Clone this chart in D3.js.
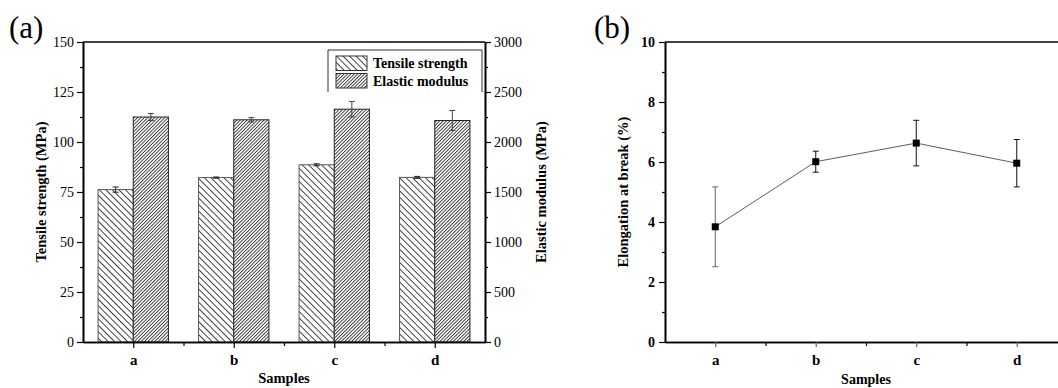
<!DOCTYPE html>
<html>
<head>
<meta charset="utf-8">
<script src="https://cdn.jsdelivr.net/npm/d3@7"></script>
<style>
  body { margin: 0; background: #fff; }
  svg { display: block; font-family: "Liberation Serif", "Times New Roman", serif; }
  svg text { font-family: "Liberation Serif", "Times New Roman", serif; }
</style>
</head>
<body>
<svg id="chart" width="1058" height="388"></svg>
<script>
// data
var samples = ["a", "b", "c", "d"];
var tensile = [76.2, 82.2, 88.6, 82.3];
var tensileErr = [1.3, 0.3, 0.5, 0.5];
var modulus = [2250, 2222, 2328, 2215];
var modulusErr = [35, 22, 78, 100];
var elongation = [3.84, 6.01, 6.63, 5.96];
var elongationErr = [1.33, 0.35, 0.76, 0.79];
var tensileTicks = [0, 25, 50, 75, 100, 125, 150];
var modulusTicks = [0, 500, 1000, 1500, 2000, 2500, 3000];
var elongTicks = [0, 2, 4, 6, 8, 10];

var svg = d3.select("#chart");

// hatch patterns
var defs = svg.append("defs");
var p1 = defs.append("pattern")
  .attr("id", "hatchBack")
  .attr("patternUnits", "userSpaceOnUse")
  .attr("width", 4.6).attr("height", 4.6)
  .attr("patternTransform", "rotate(-45)");
p1.append("rect").attr("width", 4.6).attr("height", 4.6).attr("fill", "#fff");
p1.append("rect").attr("x", 0).attr("y", 0).attr("width", 0.9).attr("height", 4.6)
  .attr("fill", "#333");

var p2 = defs.append("pattern")
  .attr("id", "hatchFwd")
  .attr("patternUnits", "userSpaceOnUse")
  .attr("width", 2.4).attr("height", 2.4)
  .attr("patternTransform", "rotate(45)");
p2.append("rect").attr("width", 2.4).attr("height", 2.4).attr("fill", "#fff");
p2.append("rect").attr("x", 0).attr("y", 0).attr("width", 0.9).attr("height", 2.4)
  .attr("fill", "#333");

function styleAxis(g, bold, size) {
  g.attr("font-family", null);
  g.selectAll("path").attr("stroke", "#000").attr("stroke-width", 1.6);
  g.selectAll("line").attr("stroke", "#000").attr("stroke-width", 1.2);
  g.selectAll("text")
    .attr("fill", "#000")
    .style("font-size", size + "px")
    .style("font-weight", bold ? "bold" : "normal");
}

// ---------- panel (a) ----------
var xa = d3.scaleLinear().domain([0.5, 4.5]).range([83, 485]);
var ya = d3.scaleLinear().domain([0, 150]).range([342, 42]);
var ya2 = d3.scaleLinear().domain([0, 3000]).range([342, 42]);
var barW = 0.35;

var ga = svg.append("g");

// bars
ga.selectAll(".tbar")
  .data(tensile)
  .enter().append("rect")
  .attr("x", function(d, i) { return xa(i + 1 - barW); })
  .attr("y", function(d) { return ya(d); })
  .attr("width", function() { return xa(1) - xa(1 - barW); })
  .attr("height", function(d) { return ya(0) - ya(d); })
  .attr("fill", "url(#hatchBack)")
  .attr("stroke", "#555").attr("stroke-width", 1);

ga.selectAll(".mbar")
  .data(modulus)
  .enter().append("rect")
  .attr("x", function(d, i) { return xa(i + 1); })
  .attr("y", function(d) { return ya2(d); })
  .attr("width", function() { return xa(1 + barW) - xa(1); })
  .attr("height", function(d) { return ya2(0) - ya2(d); })
  .attr("fill", "url(#hatchFwd)")
  .attr("stroke", "#222").attr("stroke-width", 1);

// error bars
function errBar(g, cx, yTop, yBot, color) {
  g.append("line").attr("x1", cx).attr("x2", cx).attr("y1", yTop).attr("y2", yBot)
    .attr("stroke", color).attr("stroke-width", 1);
  [yTop, yBot].forEach(function(yy) {
    g.append("line").attr("x1", cx - 3).attr("x2", cx + 3).attr("y1", yy).attr("y2", yy)
      .attr("stroke", color).attr("stroke-width", 1);
  });
}
tensile.forEach(function(d, i) {
  var cx = xa(i + 1 - barW / 2);
  errBar(ga, cx, ya(d + tensileErr[i]), ya(d - tensileErr[i]), "#222");
});
modulus.forEach(function(d, i) {
  var cx = xa(i + 1 + barW / 2);
  errBar(ga, cx, ya2(d + modulusErr[i]), ya2(d - modulusErr[i]), "#444");
});

// axes
var leftMinor = ga.append("g").attr("transform", "translate(83,0)")
  .call(d3.axisLeft(ya).tickValues([12.5, 37.5, 62.5, 87.5, 112.5, 137.5]).tickSize(3).tickFormat("").tickSizeOuter(0));
styleAxis(leftMinor, false, 11);
var leftAx = ga.append("g").attr("transform", "translate(83,0)")
  .call(d3.axisLeft(ya).tickValues(tensileTicks).tickSize(6).tickPadding(3).tickSizeOuter(0).tickFormat(d3.format("d")));
styleAxis(leftAx, false, 14);

var rightMinor = ga.append("g").attr("transform", "translate(485,0)")
  .call(d3.axisRight(ya2).tickValues([250, 750, 1250, 1750, 2250, 2750]).tickSize(3).tickFormat("").tickSizeOuter(0));
styleAxis(rightMinor, false, 11);
var rightAx = ga.append("g").attr("transform", "translate(485,0)")
  .call(d3.axisRight(ya2).tickValues(modulusTicks).tickSize(6).tickPadding(3).tickSizeOuter(0).tickFormat(d3.format("d")));
styleAxis(rightAx, false, 14);

var botMinor = ga.append("g").attr("transform", "translate(0,342)")
  .call(d3.axisBottom(xa).tickValues([1.5, 2.5, 3.5]).tickSize(4).tickFormat("").tickSizeOuter(0));
styleAxis(botMinor, true, 13);
var botAx = ga.append("g").attr("transform", "translate(0,342)")
  .call(d3.axisBottom(xa).tickValues([1, 2, 3, 4]).tickSize(6).tickPadding(6).tickSizeOuter(0)
    .tickFormat(function(d) { return samples[d - 1]; }));
styleAxis(botAx, true, 15);

ga.append("line").attr("x1", 83).attr("x2", 485).attr("y1", 42).attr("y2", 42)
  .attr("stroke", "#000").attr("stroke-width", 1.6);

// legend
ga.append("path")
  .attr("d", "M328,92V50H482V92")
  .attr("fill", "none").attr("stroke", "#333").attr("stroke-width", 1);
var legendItems = [["Tensile strength", "url(#hatchBack)"], ["Elastic modulus", "url(#hatchFwd)"]];
legendItems.forEach(function(it, i) {
  ga.append("rect").attr("x", 336).attr("y", 56 + i * 17.5).attr("width", 31).attr("height", 14.5)
    .attr("fill", it[1]).attr("stroke", "#333").attr("stroke-width", 1);
  ga.append("text").attr("x", 373).attr("y", 68 + i * 17.5).text(it[0])
    .style("font-size", "14px").style("font-weight", "bold");
});

// titles
ga.append("text").attr("x", 9).attr("y", 38).text("(a)").style("font-size", "31px");
ga.append("text").attr("transform", "translate(46,192) rotate(-90)")
  .attr("text-anchor", "middle").text("Tensile strength (MPa)")
  .style("font-size", "14.5px").style("font-weight", "bold");
ga.append("text").attr("transform", "translate(546,192) rotate(-90)")
  .attr("text-anchor", "middle").text("Elastic modulus (MPa)")
  .style("font-size", "14.5px").style("font-weight", "bold");
ga.append("text").attr("x", 284).attr("y", 383)
  .attr("text-anchor", "middle").text("Samples")
  .style("font-size", "14.5px").style("font-weight", "bold");

// ---------- panel (b) ----------
var xb = d3.scaleLinear().domain([0.5, 4.5]).range([665, 1067]);
var yb = d3.scaleLinear().domain([0, 10]).range([342, 42]);
var gb = svg.append("g");

var lineB = d3.line()
  .x(function(d, i) { return xb(i + 1); })
  .y(function(d) { return yb(d); });
gb.append("path").datum(elongation).attr("d", lineB)
  .attr("fill", "none").attr("stroke", "#333").attr("stroke-width", 0.8);

elongation.forEach(function(d, i) {
  errBar(gb, xb(i + 1), yb(d + elongationErr[i]), yb(d - elongationErr[i]), i === 0 ? "#666" : "#111");
});
gb.selectAll(".pt")
  .data(elongation)
  .enter().append("rect")
  .attr("x", function(d, i) { return xb(i + 1) - 3.5; })
  .attr("y", function(d) { return yb(d) - 3.5; })
  .attr("width", 7).attr("height", 7)
  .attr("fill", "#000");

var bLeftMinor = gb.append("g").attr("transform", "translate(665,0)")
  .call(d3.axisLeft(yb).tickValues([1, 3, 5, 7, 9]).tickSize(3).tickFormat("").tickSizeOuter(0));
styleAxis(bLeftMinor, true, 12);
var bLeft = gb.append("g").attr("transform", "translate(665,0)")
  .call(d3.axisLeft(yb).tickValues(elongTicks).tickSize(6).tickPadding(4).tickSizeOuter(0));
styleAxis(bLeft, true, 14);

var bBotMinor = gb.append("g").attr("transform", "translate(0,342)")
  .call(d3.axisBottom(xb).tickValues([1.5, 2.5, 3.5]).tickSize(4).tickFormat("").tickSizeOuter(0));
styleAxis(bBotMinor, true, 13);
var bBot = gb.append("g").attr("transform", "translate(0,342)")
  .call(d3.axisBottom(xb).tickValues([1, 2, 3, 4]).tickSize(5).tickPadding(7).tickSizeOuter(0)
    .tickFormat(function(d) { return samples[d - 1]; }));
styleAxis(bBot, true, 15);
bBot.selectAll("line").attr("stroke", "#666");

gb.append("line").attr("x1", 665).attr("x2", 1067).attr("y1", 42).attr("y2", 42)
  .attr("stroke", "#000").attr("stroke-width", 1.6);

gb.append("text").attr("x", 594).attr("y", 38).text("(b)").style("font-size", "31px");
gb.append("text").attr("transform", "translate(628,192) rotate(-90)")
  .attr("text-anchor", "middle").text("Elongation at break (%)")
  .style("font-size", "14.5px").style("font-weight", "bold");
gb.append("text").attr("x", 866).attr("y", 384)
  .attr("text-anchor", "middle").text("Samples")
  .style("font-size", "14px").style("font-weight", "bold");
</script>
</body>
</html>
